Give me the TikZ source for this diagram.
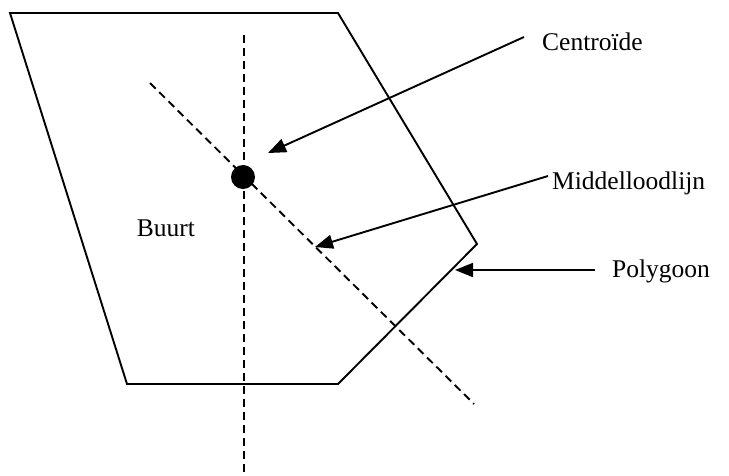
\documentclass[tikz,border=0pt]{standalone}
\usepackage{fontspec}
\setmainfont{Liberation Serif}
\usetikzlibrary{arrows.meta}
\begin{document}
\begin{tikzpicture}[x=1pt,y=-1pt,
  edge/.style={line width=1.9pt},
  dline/.style={line width=1.9pt,dash pattern=on 8pt off 5pt},
  pointer/.style={line width=1.9pt,-{Triangle[length=18pt,width=14pt]}},
  lbl/.style={font=\fontsize{25.5}{30}\selectfont,inner sep=0pt,anchor=west}]
\useasboundingbox (0,0) rectangle (729,475);
% polygon vertices
\coordinate (p1) at (10,13);
\coordinate (p2) at (338,13);
\coordinate (p3) at (477,244);
\coordinate (p4) at (338,384);
\coordinate (p5) at (127,384);
\draw[edge,line join=miter] (p1) -- (p2) -- (p3) -- (p4) -- (p5) -- cycle;
% dashed lines
\coordinate (v1) at (244,35);
\coordinate (v2) at (244,475);
\draw[dline] (v1) -- (v2);
\coordinate (d1) at (150,83);
\coordinate (d2) at (474,404);
\draw[dline] (d1) -- (d2);
% centroid
\node[circle,fill=black,minimum size=24pt,inner sep=0pt] (c) at (243,177) {};
% labels
\node[lbl] (lc) at (542,42) {Centroïde};
\node[lbl] (lm) at (552,183) {Middelloodlijn};
\node[lbl] (lp) at (612,271) {Polygoon};
\node[lbl,anchor=center] (lb) at (166,228) {Buurt};
% arrows
\coordinate (a1s) at (524,37);
\coordinate (a1e) at (268,153);
\draw[pointer] (a1s) -- (a1e);
\coordinate (a2s) at (548,176);
\coordinate (a2e) at (315,247);
\draw[pointer] (a2s) -- (a2e);
\coordinate (a3s) at (595,270);
\coordinate (a3e) at (455,270);
\draw[pointer] (a3s) -- (a3e);
\end{tikzpicture}
\end{document}
